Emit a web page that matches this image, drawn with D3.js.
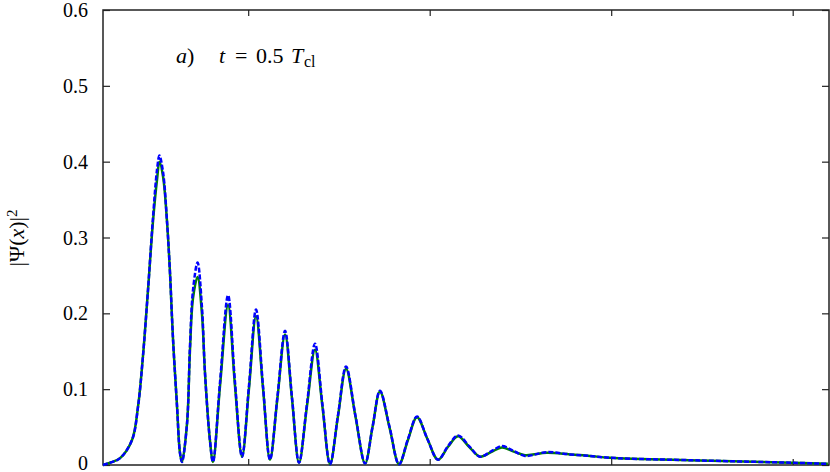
<!DOCTYPE html>
<html>
<head>
<meta charset="utf-8">
<script src="https://cdn.jsdelivr.net/npm/d3@7"></script>
<style>
  body { margin: 0; background: #fff; }
  svg text { font-family: "Liberation Serif", "DejaVu Serif", serif; fill: #000; }
</style>
</head>
<body>
<div id="chart"></div>
<script>
// x positions of the sampled points (arbitrary units, unlabeled axis)
var xs = [0, 0.39, 0.94, 1.6, 1.93, 2.2, 2.48, 2.75, 2.98, 3.11, 3.31, 3.53, 3.69, 3.86, 4.08, 4.24, 4.35,
          4.63, 4.79, 4.96, 5.21, 5.45, 5.62, 5.89, 6.06,
          6.45, 6.89, 7.27, 7.66,
          8.04, 8.43, 8.82, 9.2,
          9.61, 10.03, 10.41, 10.8,
          11.24, 11.68, 12.09, 12.51,
          12.95, 13.39, 13.91, 14.44,
          14.85, 15.26, 15.79, 16.31,
          16.8, 17.3, 17.88, 18.46,
          19.01, 19.56, 20.17, 20.77,
          21.38, 21.98, 22.59, 23.25,
          24.46, 25.73, 26.83, 27.93, 32.89, 37.96, 39.94];

// exact solution (green, solid)
var exact = [0, 0.003, 0.009, 0.033, 0.077, 0.143, 0.231, 0.32, 0.377, 0.4, 0.38, 0.32, 0.254, 0.165, 0.077, 0.016, 0.004,
             0.055, 0.15, 0.22, 0.248, 0.2, 0.121, 0.033, 0.004,
             0.105, 0.211, 0.105, 0.011,
             0.1, 0.196, 0.1, 0.007,
             0.088, 0.172, 0.088, 0.003,
             0.078, 0.152, 0.077, 0.001,
             0.065, 0.127, 0.064, 0.002,
             0.05, 0.097, 0.049, 0.001,
             0.033, 0.063, 0.034, 0.007,
             0.024, 0.038, 0.024, 0.011,
             0.017, 0.023, 0.018, 0.013,
             0.016, 0.014, 0.012, 0.0095, 0.006, 0.003, 0.0015];

// approximation (blue, dashed)
var approx = [0, 0.003, 0.009, 0.033, 0.077, 0.143, 0.231, 0.325, 0.39, 0.408, 0.386, 0.32, 0.254, 0.165, 0.077, 0.016, 0.004,
              0.055, 0.156, 0.231, 0.267, 0.209, 0.121, 0.033, 0.004,
              0.11, 0.224, 0.11, 0.011,
              0.104, 0.205, 0.103, 0.007,
              0.09, 0.177, 0.09, 0.003,
              0.081, 0.16, 0.08, 0.001,
              0.066, 0.13, 0.065, 0.002,
              0.05, 0.098, 0.05, 0.001,
              0.034, 0.064, 0.034, 0.007,
              0.025, 0.039, 0.025, 0.011,
              0.018, 0.025, 0.019, 0.012,
              0.017, 0.014, 0.012, 0.0095, 0.006, 0.003, 0.0015];

var yTicks = [0, 0.1, 0.2, 0.3, 0.4, 0.5, 0.6];
var xTicks = [8, 18, 28, 38];

var W = 830, H = 472;
var margin = {left: 103, right: 1, top: 10, bottom: 7};

var svg = d3.select("#chart").append("svg")
    .attr("width", W)
    .attr("height", H);

var x = d3.scaleLinear().domain([0, 40]).range([margin.left, W - margin.right]);
var y = d3.scaleLinear().domain([0, 0.6]).range([H - margin.bottom, margin.top]);

// frame
svg.append("rect")
    .attr("x", x(0)).attr("y", y(0.6))
    .attr("width", x(40) - x(0)).attr("height", y(0) - y(0.6))
    .attr("fill", "none").attr("stroke", "#222").attr("stroke-width", 1.5);

var fmt = d3.format(".1~f");

var yAxis = svg.append("g")
    .attr("transform", "translate(" + x(0) + ",0)")
    .call(d3.axisLeft(y).tickValues(yTicks).tickSize(-7).tickPadding(15).tickFormat(fmt));
yAxis.select(".domain").remove();
yAxis.selectAll("line").attr("stroke", "#222").attr("stroke-width", 1.2);
yAxis.selectAll("text").style("font-size", "20px")
    .attr("dy", function(d) { return d === 0 ? "0.22em" : "0.33em"; });

var yAxisR = svg.append("g")
    .attr("transform", "translate(" + x(40) + ",0)")
    .call(d3.axisRight(y).tickValues(yTicks).tickSize(-7).tickFormat(""));
yAxisR.select(".domain").remove();
yAxisR.selectAll("line").attr("stroke", "#222").attr("stroke-width", 1.2);

var xAxis = svg.append("g")
    .attr("transform", "translate(0," + y(0) + ")")
    .call(d3.axisBottom(x).tickValues(xTicks).tickSize(-6).tickFormat(""));
xAxis.select(".domain").remove();
xAxis.selectAll("line").attr("stroke", "#222").attr("stroke-width", 1.2);

var xAxisT = svg.append("g")
    .attr("transform", "translate(0," + y(0.6) + ")")
    .call(d3.axisTop(x).tickValues(xTicks).tickSize(-6).tickFormat(""));
xAxisT.select(".domain").remove();
xAxisT.selectAll("line").attr("stroke", "#222").attr("stroke-width", 1.2);

var line = d3.line()
    .x(function(d) { return x(d[0]); })
    .y(function(d) { return y(d[1]); })
    .curve(d3.curveCatmullRom.alpha(0.5));

svg.append("path")
    .datum(xs.map(function(v, i) { return [v, exact[i]]; }))
    .attr("d", line)
    .attr("fill", "none")
    .attr("stroke", "#008000")
    .attr("stroke-width", 2.5);

svg.append("path")
    .datum(xs.map(function(v, i) { return [v, approx[i]]; }))
    .attr("d", line)
    .attr("fill", "none")
    .attr("stroke", "#0000ff")
    .attr("stroke-width", 2.5)
    .attr("stroke-dasharray", "5,2");

// y label
var yl = svg.append("text")
    .attr("transform", "translate(24,238) rotate(-90)")
    .attr("text-anchor", "middle")
    .style("font-size", "22px");
yl.append("tspan").text("|Ψ(");
yl.append("tspan").style("font-style", "italic").text("x");
yl.append("tspan").text(")|");
yl.append("tspan").attr("dy", "-0.45em").style("font-size", "15px").text("2");

// annotation
var ann = svg.append("g").style("font-size", "22px");
ann.append("text").attr("x", 176).attr("y", 63)
    .html('<tspan font-style="italic">a</tspan>)');
ann.append("text").attr("x", 219).attr("y", 63).style("font-style", "italic").text("t");
ann.append("text").attr("x", 235).attr("y", 63).text("=");
ann.append("text").attr("x", 256).attr("y", 63).text("0.5");
ann.append("text").attr("x", 291).attr("y", 63).style("font-style", "italic").text("T");
ann.append("text").attr("x", 304).attr("y", 67).style("font-size", "16px").text("cl");
</script>
</body>
</html>
